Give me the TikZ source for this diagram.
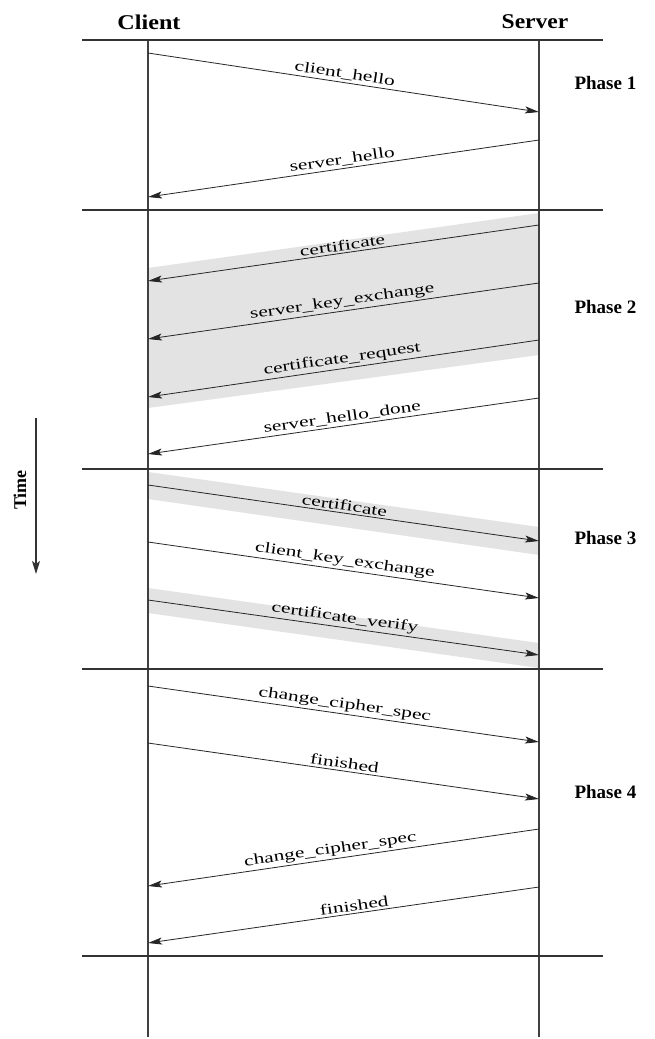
\documentclass[tikz,border=0pt]{standalone}
\usepackage{fontspec}
\setmainfont{Liberation Serif}
\usepackage{graphicx}
\usetikzlibrary{arrows.meta}
\newcommand{\lbl}[1]{\scalebox{1.43}[1]{#1}}
\begin{document}
\begin{tikzpicture}[x=1pt,y=-1pt,
  sepline/.style={line width=2.4pt, draw=black!80},
  life/.style={line width=1.1pt, draw=black!75},
  msg/.style={line width=0.8pt, draw=black!85, -{Stealth[length=14pt,width=7pt,inset=3pt]}},
  lab/.style={sloped, above=2pt, inner sep=0pt, font=\fontsize{15}{18}\selectfont},
  band/.style={fill=black!11, draw=none},
  title/.style={font=\fontsize{21}{25}\selectfont\bfseries},
  phase/.style={font=\fontsize{19}{23}\selectfont\bfseries, anchor=west},
]
\fill[white] (0,0) rectangle (654,1039);
\useasboundingbox (0,0) rectangle (654,1039);

% shaded bands
\fill[band] (148,268) -- (539,213) -- (539,355) -- (148,408) -- cycle;
\fill[band] (148,472) -- (539,527) -- (539,555) -- (148,499) -- cycle;
\fill[band] (148,588) -- (539,643) -- (539,668) -- (148,613) -- cycle;

% titles
\node[title] (client) at (149,22) {\scalebox{1.15}[1]{Client}};
\node[title] (server) at (535,22) {\scalebox{1.12}[1]{Server}};

% lifelines
\coordinate (ct) at (148,40); \coordinate (cb) at (148,1037);
\coordinate (st) at (539,40); \coordinate (sb) at (539,1037);
\draw[life] (ct) -- (cb);
\draw[life] (st) -- (sb);

% separators
\foreach \i/\y in {0/40,1/210,2/469,3/669,4/956}{
  \coordinate (L\i) at (82,\y); \coordinate (R\i) at (603,\y);
  \draw[sepline] (L\i) -- (R\i);
}

% phase labels
\node[phase] (p1) at (571,83) {Phase 1};
\node[phase] (p2) at (571,307) {Phase 2};
\node[phase] (p3) at (571,538) {Phase 3};
\node[phase] (p4) at (571,792) {Phase 4};

% time arrow
\coordinate (t0) at (36,418); \coordinate (t1) at (36,574);
\draw[line width=1.2pt, draw=black!80, -{Stealth[length=13pt,width=8pt,inset=3pt]}] (t0) -- (t1);
\node[rotate=90, font=\fontsize{18}{20}\selectfont\bfseries] (time) at (20,490) {Time};

% phase 1
\coordinate (a1) at (148,53);  \coordinate (b1) at (539,112);
\coordinate (a2) at (539,140); \coordinate (b2) at (148,197);
\draw[msg] (a1) -- node[lab] {\lbl{client\_hello}} (b1);
\draw[msg] (a2) -- node[lab] {\lbl{server\_hello}} (b2);

% phase 2
\coordinate (a3) at (539,225); \coordinate (b3) at (148,281);
\coordinate (a4) at (539,283); \coordinate (b4) at (148,339);
\coordinate (a5) at (539,340); \coordinate (b5) at (148,397);
\coordinate (a6) at (539,398); \coordinate (b6) at (148,454);
\draw[msg] (a3) -- node[lab] {\lbl{certificate}} (b3);
\draw[msg] (a4) -- node[lab] {\lbl{server\_key\_exchange}} (b4);
\draw[msg] (a5) -- node[lab] {\lbl{certificate\_request}} (b5);
\draw[msg] (a6) -- node[lab] {\lbl{server\_hello\_done}} (b6);

% phase 3
\coordinate (a7) at (148,485); \coordinate (b7) at (539,541);
\coordinate (a8) at (148,542); \coordinate (b8) at (539,598);
\coordinate (a9) at (148,600); \coordinate (b9) at (539,655);
\draw[msg] (a7) -- node[lab] {\lbl{certificate}} (b7);
\draw[msg] (a8) -- node[lab] {\lbl{client\_key\_exchange}} (b8);
\draw[msg] (a9) -- node[lab] {\lbl{certificate\_verify}} (b9);

% phase 4
\coordinate (a10) at (148,686); \coordinate (b10) at (539,742);
\coordinate (a11) at (148,743); \coordinate (b11) at (539,799);
\coordinate (a12) at (539,829); \coordinate (b12) at (148,886);
\coordinate (a13) at (539,887); \coordinate (b13) at (148,943);
\draw[msg] (a10) -- node[lab] {\lbl{change\_cipher\_spec}} (b10);
\draw[msg] (a11) -- node[lab] {\lbl{finished}} (b11);
\draw[msg] (a12) -- node[lab, pos=0.53] {\lbl{change\_cipher\_spec}} (b12);
\draw[msg] (a13) -- node[lab, pos=0.47] {\lbl{finished}} (b13);
\end{tikzpicture}
\end{document}
